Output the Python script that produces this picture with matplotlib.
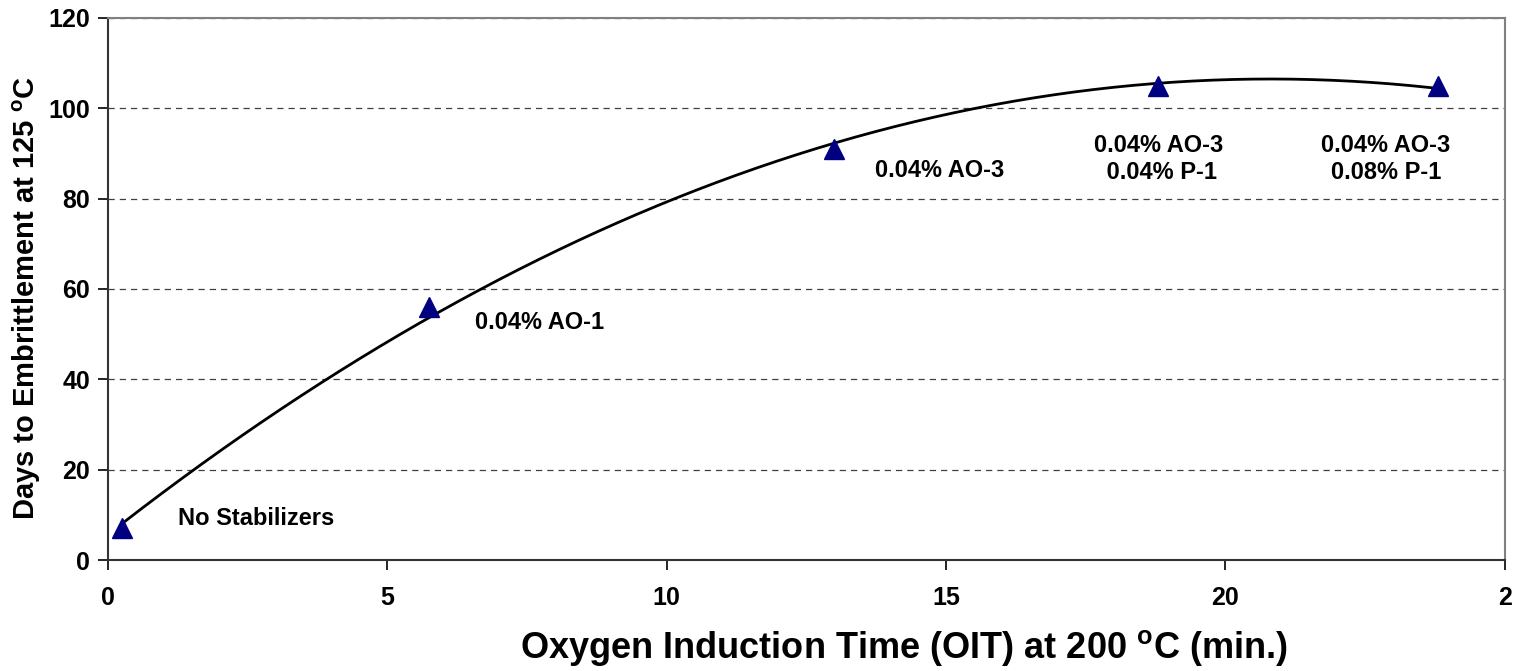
import numpy as np
import matplotlib
matplotlib.use("Agg")
import matplotlib.pyplot as plt

plt.rcParams["font.family"] = ["Liberation Sans", "DejaVu Sans"]
plt.rcParams["font.weight"] = "bold"
plt.rcParams["mathtext.fontset"] = "custom"
plt.rcParams["mathtext.bf"] = "Liberation Sans:bold"
plt.rcParams["mathtext.rm"] = "Liberation Sans:bold"

# data
oit_min = [0.25, 5.75, 13.0, 18.8, 23.8]
days = [7, 56, 91, 105, 105]
point_labels = ["No Stabilizers", "0.04% AO-1", "0.04% AO-3",
                "0.04% AO-3\n 0.04% P-1", "0.04% AO-3\n0.08% P-1"]
label_x = [1.25, 6.57, 13.73, 18.8, 22.87]
label_y = [9.3, 52.5, 86.3, 88.8, 88.8]
label_ha = ["left", "left", "left", "center", "center"]
x_ticks = [0, 5, 10, 15, 20, 25]
x_ticklabels = ["0", "5", "10", "15", "20", "2"]
y_ticks = [0, 20, 40, 60, 80, 100, 120]

fig = plt.figure(figsize=(15.2, 6.71), dpi=100)
ax = fig.add_axes([0.0711, 0.1654, 0.9189, 0.8078])

# 2nd order polynomial trendline through the points
coef = np.polyfit(oit_min, days, 2)
xs = np.linspace(min(oit_min), max(oit_min), 200)
ax.plot(xs, np.polyval(coef, xs), color="black", lw=2, zorder=3)
ax.plot(oit_min, days, linestyle="none", marker="^", markersize=15,
        color="#000080", zorder=4)

for x, y, s, ha in zip(label_x, label_y, point_labels, label_ha):
    ax.text(x, y, s, ha=ha, va="center", fontsize=17, fontweight="bold",
            linespacing=1.25)

ax.set_xlim(0, 25)
ax.set_ylim(0, 120)
ax.set_xticks(x_ticks)
ax.set_xticklabels(x_ticklabels)
ax.set_yticks(y_ticks)
ax.tick_params(direction="out", length=7, width=1.2, labelsize=18)
ax.tick_params(axis="y", pad=6)
ax.tick_params(axis="x", pad=12)
for lbl in ax.get_xticklabels() + ax.get_yticklabels():
    lbl.set_fontweight("bold")

ax.grid(axis="y", linestyle=(0, (5, 4)), color="#404040", lw=0.9)
ax.set_axisbelow(True)
for side in ("left", "bottom"):
    ax.spines[side].set_color("#333333")
    ax.spines[side].set_linewidth(1.5)
for side in ("top", "right"):
    ax.spines[side].set_color("#808080")
    ax.spines[side].set_linewidth(1.5)

ax.set_xlabel(r"Oxygen Induction Time (OIT) at 200 $^{\mathbf{o}}$C (min.)",
              fontsize=26, fontweight="bold", va="center")
ax.xaxis.set_label_coords(0.570, -0.162)
ax.set_ylabel(r"Days to Embrittlement at 125 $^{\mathbf{o}}$C",
              fontsize=21, fontweight="bold", va="center")
ax.yaxis.set_label_coords(-0.058, 0.484)

fig.savefig("out.png", dpi=100, facecolor="white")
